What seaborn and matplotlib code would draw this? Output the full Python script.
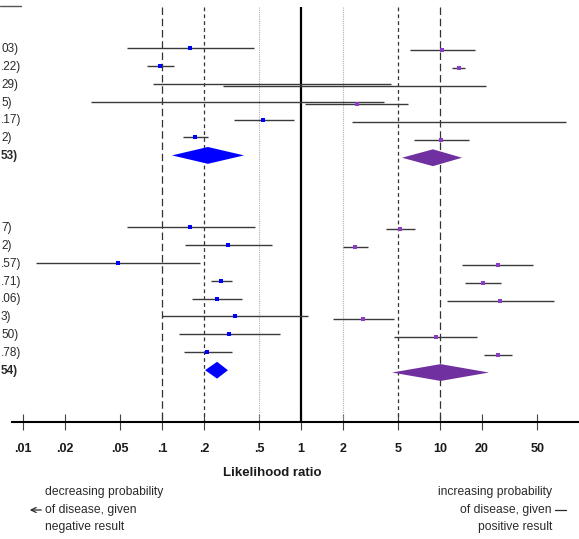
import numpy as np
import matplotlib
matplotlib.use("Agg")
import matplotlib.pyplot as plt
import matplotlib.transforms as mtransforms
from matplotlib.lines import Line2D
import seaborn as sns

# ---------------- data ----------------
# group 1: six studies + pooled estimate (last)
g1_labels = ["03)", ".22)", "29)", "5)", ".17)", "2)", "53)"]
g1_neg_pt = [0.159, 0.097, np.nan, np.nan, 0.533, 0.173, 0.214]
g1_neg_lo = [0.056, 0.078, 0.086, 0.031, 0.33, 0.142, 0.118]
g1_neg_hi = [0.459, 0.122, 4.44, 3.96, 0.89, 0.214, 0.389]
g1_pos_pt = [10.3, 13.7, np.nan, 2.53, np.nan, 10.1, 8.9]
g1_pos_lo = [6.08, 12.2, 0.275, 1.07, 2.33, 6.5, 5.33]
g1_pos_hi = [17.9, 15.1, 21.4, 5.89, 80.0, 16.2, 14.4]

# group 2: eight studies + pooled estimate (last)
g2_labels = ["7)", "2)", ".57)", ".71)", ".06)", "3)", "50)", ".78)", "54)"]
g2_neg_pt = [0.159, 0.298, 0.048, 0.266, 0.249, 0.335, 0.303, 0.211, 0.249]
g2_neg_lo = [0.056, 0.146, 0.0124, 0.225, 0.164, 0.10, 0.133, 0.144, 0.204]
g2_neg_hi = [0.466, 0.618, 0.188, 0.319, 0.376, 1.12, 0.706, 0.319, 0.298]
g2_pos_pt = [5.16, 2.45, 26.1, 20.4, 27.0, 2.79, 9.36, 26.1, 10.1]
g2_pos_lo = [4.09, 2.0, 14.4, 15.1, 11.2, 1.70, 4.67, 20.7, 4.52]
g2_pos_hi = [6.61, 3.03, 46.7, 27.5, 66.1, 4.67, 18.5, 33.0, 22.5]

tick_values = [0.01, 0.02, 0.05, 0.1, 0.2, 0.5, 1, 2, 5, 10, 20, 50]
tick_labels = [".01", ".02", ".05", ".1", ".2", ".5", "1", "2", "5", "10", "20", "50"]

# ---------------- layout / style ----------------
W, H = 579, 539
NEG_COLOR = "#0000ff"
POS_COLOR = "#7030a0"
POS_POINT = "#8a3cc8"
LINE_COLOR = "#3a3a3a"
TEXT_COLOR = "#2a2a2a"

sns.set_theme(style="white")
plt.rcParams["font.family"] = ["Liberation Sans", "DejaVu Sans"]

fig = plt.figure(figsize=(W / 100, H / 100), dpi=100)
ax = fig.add_axes([0, 0, 1, 1])
ax.set_xscale("log")

# pixel mapping: x_px = 301 + 139*log10(v); row i at y_px = 48 + 17.9*i
x_left = 10 ** (-301 / 139)
x_right = 10 ** ((W - 301) / 139)
ax.set_xlim(x_left, x_right)
row_px0, row_step = 48.0, 17.9
ax.set_ylim((H - row_px0) / row_step, -row_px0 / row_step)

def px_to_row(py):
    return (py - row_px0) / row_step

axis_row = px_to_row(422)
top_row = px_to_row(7)

# row positions built from group structure (gap of 3 blank rows)
rows1 = np.arange(len(g1_labels), dtype=float)
rows2 = np.arange(len(g2_labels), dtype=float) + len(g1_labels) + 3
pos_offset = 0.13   # positive-LR lines drawn slightly lower

# reference lines
ax.vlines(1, top_row, axis_row, color="black", lw=1.6, zorder=1)
for v in (0.5, 2):
    ax.vlines(v, top_row, axis_row, color="#b0b0b0", lw=0.8, linestyles=(0, (1, 1)), zorder=1)
for v in (0.2, 5):
    ax.vlines(v, top_row, axis_row, color="#333333", lw=0.9, linestyles=(0, (3, 2.5)), zorder=1)
for v in (0.1, 10):
    ax.vlines(v, top_row, axis_row, color="#333333", lw=0.9, linestyles=(0, (6, 3)), zorder=1)

def draw_group(rows, neg_pt, neg_lo, neg_hi, pos_pt, pos_lo, pos_hi):
    study = rows[:-1]
    # CI lines
    ax.hlines(study, neg_lo[:-1], neg_hi[:-1], color=LINE_COLOR, lw=1.0, zorder=2)
    ax.hlines(study + pos_offset, pos_lo[:-1], pos_hi[:-1], color=LINE_COLOR, lw=1.0, zorder=2)
    # point estimates
    sns.scatterplot(x=neg_pt[:-1], y=study, ax=ax, marker="s", s=6,
                    color=NEG_COLOR, linewidth=0, zorder=4, legend=False)
    sns.scatterplot(x=pos_pt[:-1], y=study + pos_offset, ax=ax, marker="s", s=6,
                    color=POS_POINT, linewidth=0, zorder=4, legend=False)
    # pooled diamonds
    h = 0.47
    y = rows[-1]
    ax.fill([neg_lo[-1], neg_pt[-1], neg_hi[-1], neg_pt[-1]],
            [y, y - h, y, y + h], color=NEG_COLOR, lw=0, zorder=3)
    yp = rows[-1] + pos_offset
    ax.fill([pos_lo[-1], pos_pt[-1], pos_hi[-1], pos_pt[-1]],
            [yp, yp - h, yp, yp + h], color=POS_COLOR, lw=0, zorder=3)

draw_group(rows1, *(np.array(a, dtype=float) for a in
                    (g1_neg_pt, g1_neg_lo, g1_neg_hi, g1_pos_pt, g1_pos_lo, g1_pos_hi)))
draw_group(rows2, *(np.array(a, dtype=float) for a in
                    (g2_neg_pt, g2_neg_lo, g2_neg_hi, g2_pos_pt, g2_pos_lo, g2_pos_hi)))

# row labels at the left edge
blend = mtransforms.blended_transform_factory(fig.transFigure, ax.transData)
for labels, rows in ((g1_labels, rows1), (g2_labels, rows2)):
    for i, (lab, r) in enumerate(zip(labels, rows)):
        ax.text(1 / W, r + 0.05, lab, transform=blend, ha="left", va="center",
                fontsize=8.5, color=TEXT_COLOR,
                fontweight="bold" if i == len(labels) - 1 else "normal")

# header underline fragment (top-left)
fig.add_artist(Line2D([0, 21 / W], [1 - 6 / H, 1 - 6 / H], color="#555555", lw=1.0,
                      transform=fig.transFigure))

# x axis drawn as a positioned spine
for s in ("top", "right", "left"):
    ax.spines[s].set_visible(False)
ax.spines["bottom"].set_position(("data", axis_row))
ax.spines["bottom"].set_bounds(10 ** ((12 - 301) / 139), x_right)
ax.spines["bottom"].set_linewidth(1.5)
ax.spines["bottom"].set_color("black")
ax.set_xticks(tick_values)
ax.set_xticklabels(tick_labels)
ax.xaxis.set_minor_locator(matplotlib.ticker.NullLocator())
ax.tick_params(axis="x", which="major", bottom=True, direction="inout", length=11,
               width=0.8, color="#444444", pad=9.5, labelsize=9, labelcolor="#1a1a1a")
for t in ax.get_xticklabels():
    t.set_fontweight("bold")
ax.set_yticks([])
ax.grid(False)
ax.patch.set_alpha(0)

# axis title
fig.text(272 / W, 1 - 473 / H, "Likelihood ratio", ha="center", va="center",
         fontsize=9.5, fontweight="bold", color="#1a1a1a")

# explanatory notes
left_lines = ["decreasing probability", "of disease, given", "negative result"]
right_lines = ["increasing probability", "of disease, given", "positive result"]
for k, (ll, rl) in enumerate(zip(left_lines, right_lines)):
    yy = 1 - (492 + 17.5 * k) / H
    fig.text(45 / W, yy, ll, ha="left", va="center", fontsize=8.7, color=TEXT_COLOR)
    fig.text(552 / W, yy, rl, ha="right", va="center", fontsize=8.7, color=TEXT_COLOR)

arrow_y = 1 - 510 / H
fig.add_artist(matplotlib.patches.FancyArrowPatch((44 / W, arrow_y), (27 / W, arrow_y),
               transform=fig.transFigure, arrowstyle="->", mutation_scale=9,
               lw=0.9, color=TEXT_COLOR))
fig.add_artist(Line2D([555 / W, 566 / W], [arrow_y, arrow_y], color=TEXT_COLOR, lw=0.9,
                      transform=fig.transFigure))

fig.savefig("out.png", dpi=100)
